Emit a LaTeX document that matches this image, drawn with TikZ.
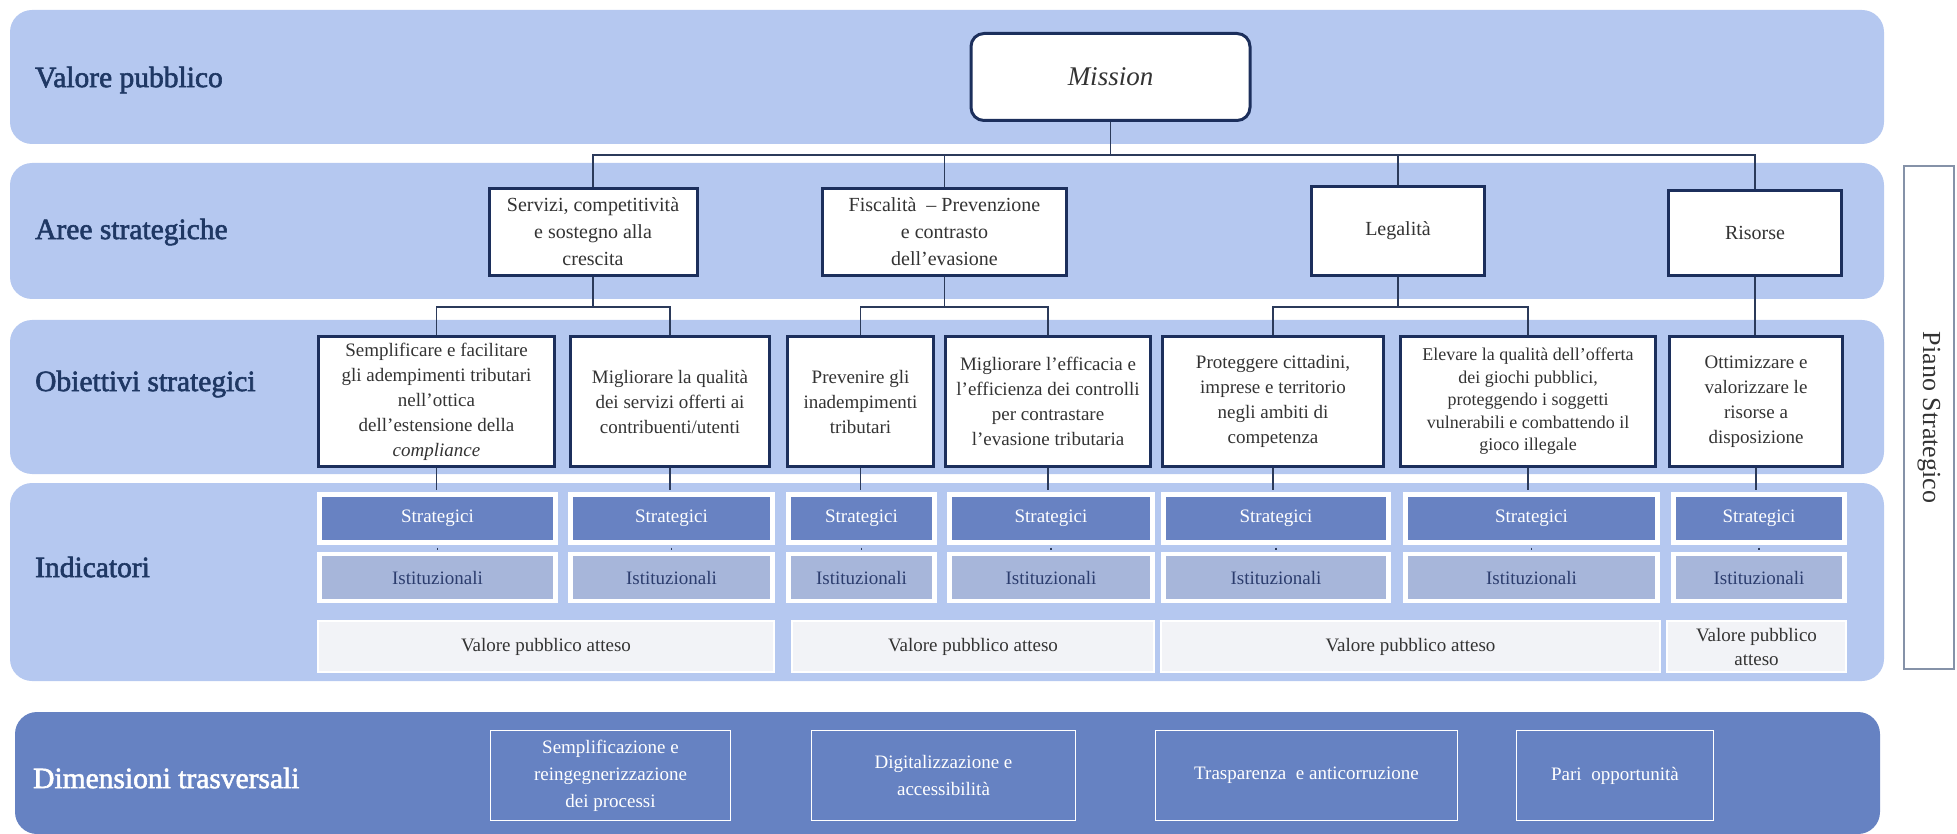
\documentclass[tikz,border=0pt]{standalone}
\usepackage{fontspec}
\setmainfont{Liberation Serif}
\newfontface\lblfont[FakeBold=2]{Liberation Serif}
\definecolor{bandc}{HTML}{B5C8F0}
\definecolor{navy}{HTML}{1C2F5C}
\definecolor{connc}{HTML}{2B3A5A}
\definecolor{labelc}{HTML}{1F3864}
\definecolor{txtc}{HTML}{333333}
\definecolor{stratc}{HTML}{6882C2}
\definecolor{istc}{HTML}{A7B6DA}
\definecolor{istt}{HTML}{2C3D6E}
\definecolor{vpac}{HTML}{F2F3F7}
\definecolor{dimc}{HTML}{6682C2}
\definecolor{pianoc}{HTML}{8592A8}
\tikzset{
  band/.style={fill=bandc, rounded corners=22pt},
  lbl/.style={anchor=west, inner sep=0pt, font=\lblfont\fontsize{29.5}{34}\selectfont, text=labelc},
  areabox/.style={draw=navy, line width=3pt, fill=white, align=center, inner sep=2pt,
    font=\fontsize{20}{27}\selectfont, text=txtc},
  objbox/.style={areabox, minimum height=130pt, font=\fontsize{19}{25}\selectfont},
  stratbox/.style={fill=stratc, draw=white, line width=5pt, minimum height=48pt, inner sep=1pt,
    text=white, font=\fontsize{19}{23}\selectfont},
  istbox/.style={fill=istc, draw=white, line width=4.5pt, minimum height=47pt, inner sep=1pt,
    text=istt, font=\fontsize{19}{23}\selectfont},
  vpabox/.style={fill=vpac, draw=white, line width=2pt, minimum height=51pt, align=center, inner sep=1pt,
    text=txtc, font=\fontsize{19}{24}\selectfont},
  dimbox/.style={draw=white, line width=1.5pt, minimum height=90pt, align=center,
    text=white, font=\fontsize{19}{27}\selectfont},
  conn/.style={draw=connc, line width=1.6pt},
}
\begin{document}
\begin{tikzpicture}[x=1pt,y=-1pt]
\useasboundingbox (0,0) rectangle (1957,834);
% bands
\fill[band] (10,10) rectangle (1884,144);
\fill[band] (10,163) rectangle (1884,299);
\fill[band] (10,320) rectangle (1884,474);
\fill[band] (10,483) rectangle (1884,681);
\fill[dimc, rounded corners=22pt] (15,712) rectangle (1880,834);
% labels
\node[lbl] (l1) at (35,80) {Valore pubblico};
\node[lbl] (l2) at (35,232) {Aree strategiche};
\node[lbl] (l3) at (35,384) {Obiettivi strategici};
\node[lbl] (l4) at (35,567) {Indicatori};
\node[lbl, text=white] (l5) at (33,778) {Dimensioni trasversali};
% mission
\node[areabox, rounded corners=13pt, minimum width=279pt, minimum height=87pt,
  font=\fontsize{27}{32}\selectfont\itshape] (mission) at (1110.5,77) {Mission};
% aree
\node[areabox, minimum width=208pt, minimum height=87pt] (serv) at (593,232) {Servizi, competitività\\e sostegno alla\\crescita};
\node[areabox, minimum width=244pt, minimum height=87pt] (fisc) at (944.5,232) {Fiscalità \ – Prevenzione\\e contrasto\\dell’evasione};
\node[areabox, minimum width=173pt, minimum height=89pt] (leg) at (1398,231) {Legalità};
\node[areabox, minimum width=173pt, minimum height=85pt] (ris) at (1755,233) {Risorse};
% obiettivi
\node[objbox, minimum width=236pt] (o1) at (436.5,401.5) {Semplificare e facilitare\\gli adempimenti tributari\\nell’ottica\\dell’estensione della\\\textit{compliance}};
\node[objbox, minimum width=199pt] (o2) at (670,401.5) {Migliorare la qualità\\dei servizi offerti ai\\contribuenti/utenti};
\node[objbox, minimum width=146pt] (o3) at (860.5,401.5) {Prevenire gli\\inadempimenti\\tributari};
\node[objbox, minimum width=205pt] (o4) at (1048,401.5) {Migliorare l’efficacia e\\l’efficienza dei controlli\\per contrastare\\l’evasione tributaria};
\node[objbox, minimum width=221pt] (o5) at (1273,401.5) {Proteggere cittadini,\\imprese e territorio\\negli ambiti di\\competenza};
\node[objbox, minimum width=255pt, font=\fontsize{18}{22.5}\selectfont] (o6) at (1528,401.5) {Elevare la qualità dell’offerta\\dei giochi pubblici,\\proteggendo i soggetti\\vulnerabili e combattendo il\\gioco illegale};
\node[objbox, minimum width=173pt] (o7) at (1756,401.5) {Ottimizzare e\\valorizzare le\\risorse a\\disposizione};
% strategici
\node[stratbox, minimum width=236pt] (s1) at (437.5,518.5) {Strategici};
\node[stratbox, minimum width=202pt] (s2) at (671.5,518.5) {Strategici};
\node[stratbox, minimum width=146pt] (s3) at (861.5,518.5) {Strategici};
\node[stratbox, minimum width=203pt] (s4) at (1051,518.5) {Strategici};
\node[stratbox, minimum width=225pt] (s5) at (1276,518.5) {Strategici};
\node[stratbox, minimum width=252pt] (s6) at (1531.5,518.5) {Strategici};
\node[stratbox, minimum width=171pt] (s7) at (1759,518.5) {Strategici};
% istituzionali
\node[istbox, minimum width=236pt] (i1) at (437.5,577.5) {Istituzionali};
\node[istbox, minimum width=202pt] (i2) at (671.5,577.5) {Istituzionali};
\node[istbox, minimum width=146pt] (i3) at (861.5,577.5) {Istituzionali};
\node[istbox, minimum width=203pt] (i4) at (1051,577.5) {Istituzionali};
\node[istbox, minimum width=225pt] (i5) at (1276,577.5) {Istituzionali};
\node[istbox, minimum width=252pt] (i6) at (1531.5,577.5) {Istituzionali};
\node[istbox, minimum width=171pt] (i7) at (1759,577.5) {Istituzionali};
% valore pubblico atteso
\node[vpabox, minimum width=456pt] (v1) at (546,646.5) {Valore pubblico atteso};
\node[vpabox, minimum width=362pt] (v2) at (973,646.5) {Valore pubblico atteso};
\node[vpabox, minimum width=499pt] (v3) at (1410.5,646.5) {Valore pubblico atteso};
\node[vpabox, minimum width=179pt] (v4) at (1756.5,646.5) {Valore pubblico\\atteso};
% dimensioni
\node[dimbox, minimum width=240pt] (d1) at (610.5,775.5) {Semplificazione e\\reingegnerizzazione\\dei processi};
\node[dimbox, minimum width=264pt] (d2) at (943.5,775.5) {Digitalizzazione e\\accessibilità};
\node[dimbox, minimum width=302pt] (d3) at (1306.5,775.5) {Trasparenza \ e anticorruzione};
\node[dimbox, minimum width=197pt] (d4) at (1615,775.5) {Pari \ opportunità};
% piano strategico
\node[draw=pianoc, line width=2pt, rotate=-90, minimum width=503pt, minimum height=50pt,
  text=txtc, font=\fontsize{26}{30}\selectfont] (piano) at (1929,417.5) {Piano Strategico};
% connectors
\coordinate (top) at (1110.5,155);
\coordinate (mid) at (0,307);
\draw[conn] (mission.south) -- (top);
\draw[conn] (serv.north) |- (top) -| (ris.north);
\draw[conn] (fisc.north) -- (fisc.north |- top);
\draw[conn] (leg.north) -- (leg.north |- top);
\draw[conn] (serv.south) -- (serv.south |- mid);
\draw[conn] (o1.north) |- (serv.south |- mid) -| (o2.north);
\draw[conn] (fisc.south) -- (fisc.south |- mid);
\draw[conn] (o3.north) |- (fisc.south |- mid) -| (o4.north);
\draw[conn] (leg.south) -- (leg.south |- mid);
\draw[conn] (o5.north) |- (leg.south |- mid) -| (o6.north);
\draw[conn] (ris.south) -- (ris.south |- o7.north);
\foreach \k in {1,...,7}{
  \draw[conn, shorten >=2.5pt] (o\k.south) -- (o\k.south |- s\k.north);
  \draw[conn, line width=1.2pt, shorten <=2.5pt, shorten >=2.25pt] (s\k.south) -- (s\k.south |- i\k.north);
}
\end{tikzpicture}
\end{document}
